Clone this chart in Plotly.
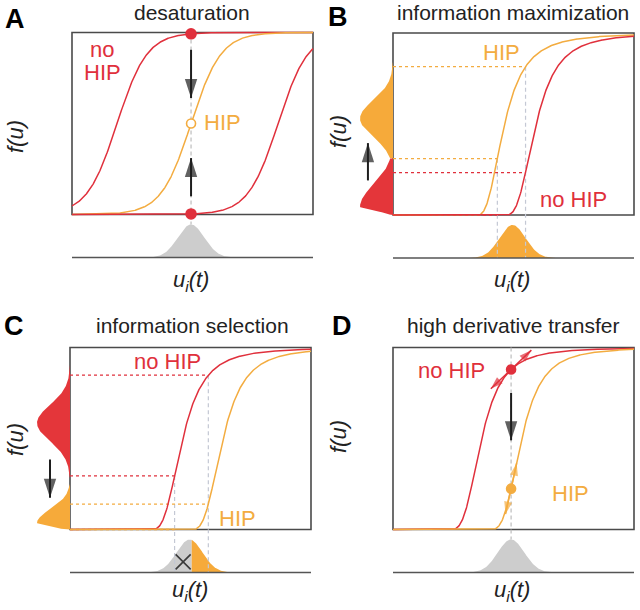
import numpy as np
import plotly.graph_objects as go

W, H = 640, 610
RED = '#E0303C'
RED_FILL = '#E4363A'
ORANGE = '#F3AC40'
ORANGE_FILL = '#F6AA3A'
GRAY_FILL = '#CDCDCD'
BOX = '#4A4A4A'
ARROW = '#1E1E1E'
VDASH = '#C4C8D4'
FONT = 'Liberation Sans, Arial, sans-serif'

# ---------------- data (box units: x 0..1 across the box, y 0..1 up the box) -------------
# Panel A: logistic transfer functions (midpoint, scale)
A_centers = [0.187, 0.494, 0.855]
A_scales = [0.062, 0.062, 0.062]
A_kinds = ['nohip', 'hip', 'nohip']
A_input = [0.494, 0.055]          # input distribution: mean, sd

# Hill-type transfer functions: onset, half-saturation distance, exponent
B_hip = [0.350, 0.113, 2.6]
B_nohip = [0.467, 0.127, 2.8]
B_input = [0.496, 0.054]
B_samples = [0.433, 0.550]
# output distributions: mode, sd above, sd below, low end, high end
B_out_hip = [0.53, 0.10, 0.10, 0.31, 0.84]
B_out_nohip = [0.045, 0.12, 0.02, 0.0, 0.31]

C_nohip = [0.338, 0.130, 2.88]
C_hip = [0.505, 0.130, 2.88]
C_input = [0.496, 0.054]
C_samples = [0.434, 0.574]
C_out_nohip = [0.585, 0.10, 0.10, 0.285, 0.905]
C_out_hip = [0.036, 0.075, 0.02, 0.0, 0.25]

D_nohip = [0.238, 0.130, 3.0]
D_hip = [0.404, 0.130, 3.0]
D_input = [0.490, 0.055]

titles = ['desaturation', 'information maximization', 'information selection', 'high derivative transfer']
letters = ['A', 'B', 'C', 'D']

# ---------------- layout geometry (pixels) ----------------
BOX_W, BOX_H = 241.0, 182.0
BASE = -43.0 / BOX_H         # baseline of input distribution
GAUSS_H = 33.0 / BOX_H
DIST_W = 33.0 / BOX_W
panels = [
    dict(box=(72, 32.5), dom=(0, 320, 0, 305)),
    dict(box=(393, 33), dom=(320, 640, 0, 305)),
    dict(box=(70, 347.5), dom=(0, 320, 305, 610)),
    dict(box=(393, 347.5), dom=(320, 640, 305, 610)),
]

fig = go.Figure()
uu = np.linspace(0, 1, 500)


def logistic(u, c, s):
    return 1.0 / (1.0 + np.exp(-(np.asarray(u) - c) / s))


def hill(u, p):
    u0, k, n = p
    x = np.clip(np.asarray(u, dtype=float) - u0, 0, None)
    r = (x / k) ** n
    return r / (1 + r)


def hill_deriv(u, p):
    u0, k, n = p
    x = max(u - u0, 1e-9)
    r = (x / k) ** n
    return n * r / (x * (1 + r) ** 2)


def ids(i):
    return ('x', 'y') if i == 1 else (f'x{i}', f'y{i}')


def setup(i, p):
    bl, bt = p['box']
    xl, xr, yt, yb = p['dom']
    bb = bt + BOX_H
    key = '' if i == 1 else str(i)
    fig.update_layout(**{
        f'xaxis{key}': dict(domain=[xl / W, xr / W], range=[(xl - bl) / BOX_W, (xr - bl) / BOX_W],
                            visible=False, anchor=f'y{key}', fixedrange=True),
        f'yaxis{key}': dict(domain=[1 - yb / H, 1 - yt / H], range=[(bb - yb) / BOX_H, (bb - yt) / BOX_H],
                            visible=False, anchor=f'x{key}', fixedrange=True),
    })
    xa, ya = ids(i)
    fig.add_shape(type='rect', xref=xa, yref=ya, x0=0, x1=1, y0=0, y1=1,
                  line=dict(color=BOX, width=1.6), layer='below')
    fig.add_shape(type='line', xref=xa, yref=ya, x0=0, x1=1, y0=BASE, y1=BASE,
                  line=dict(color='#555555', width=1.6))


def line(i, x, y, color, width=1.5, dash=None):
    xa, ya = ids(i)
    fig.add_trace(go.Scatter(x=list(x), y=list(y), mode='lines', xaxis=xa, yaxis=ya,
                             line=dict(color=color, width=width, dash=dash),
                             hoverinfo='skip', showlegend=False))


def poly(i, x, y, color):
    xa, ya = ids(i)
    fig.add_trace(go.Scatter(x=list(x), y=list(y), mode='lines', fill='toself', fillcolor=color,
                             line=dict(width=0, color=color), xaxis=xa, yaxis=ya,
                             hoverinfo='skip', showlegend=False))


def dot(i, x, y, color, size=10, fill=None):
    xa, ya = ids(i)
    fig.add_trace(go.Scatter(x=[x], y=[y], mode='markers', xaxis=xa, yaxis=ya,
                             marker=dict(size=size, color=fill or color, line=dict(color=color, width=1.6)),
                             hoverinfo='skip', showlegend=False))


def gauss(i, inp, color, lo=None, hi=None):
    m, sd = inp
    a = m - 3.3 * sd if lo is None else lo
    b = m + 3.3 * sd if hi is None else hi
    x = np.linspace(a, b, 120)
    y = BASE + GAUSS_H * np.exp(-0.5 * ((x - m) / sd) ** 2)
    poly(i, [a] + list(x) + [b], [BASE] + list(y) + [BASE], color)


def side(i, prm, color):
    mode, su, sd, lo, hi = prm
    y = np.linspace(lo, hi, 200)
    w = np.where(y >= mode, np.exp(-0.5 * ((y - mode) / su) ** 2), np.exp(-0.5 * ((y - mode) / sd) ** 2))
    poly(i, [0] + list(-DIST_W * w) + [0], [lo] + list(y) + [hi], color)


def arrow(i, x0, y0, x1, y1, color=ARROW, width=2.0, size=20):
    xa, ya = ids(i)
    fig.add_trace(go.Scatter(x=[x0, x1], y=[y0, y1], mode='lines', xaxis=xa, yaxis=ya,
                             line=dict(color=color, width=width),
                             hoverinfo='skip', showlegend=False))
    fig.add_trace(go.Scatter(x=[x0, x1], y=[y0, y1], mode='markers', xaxis=xa, yaxis=ya,
                             marker=dict(symbol='arrow', size=[0, size], angleref='previous',
                                         color=color, line=dict(width=0, color=color)),
                             hoverinfo='skip', showlegend=False))


def vdash(i, x, y0, y1, color=VDASH):
    line(i, [x, x], [y0, y1], color, width=1.2, dash='4px,3px')


def hdash(i, x1, y, color):
    line(i, [0, x1], [y, y], color, width=1.3, dash='3px,3px')


for i, p in enumerate(panels, start=1):
    setup(i, p)

# ---------------- Panel A ----------------
mA = A_input[0]
gauss(1, A_input, GRAY_FILL)
vdash(1, mA, 1, BASE + GAUSS_H, color='#BDBDBD')
for c, s, k in zip(A_centers, A_scales, A_kinds):
    line(1, uu, logistic(uu, c, s), RED if k == 'nohip' else ORANGE, width=1.5)
arrow(1, mA, 0.905, mA, 0.64)
arrow(1, mA, 0.10, mA, 0.31)
dot(1, mA, float(logistic(mA, A_centers[0], A_scales[0])), RED, size=10)
dot(1, mA, float(logistic(mA, A_centers[2], A_scales[2])), RED, size=10)
dot(1, mA, float(logistic(mA, A_centers[1], A_scales[1])), ORANGE, size=9, fill='white')

# ---------------- Panel B ----------------
gauss(2, B_input, ORANGE_FILL)
for s in B_samples:
    vdash(2, s, float(hill(s, B_hip)), BASE)
for s in B_samples:
    hdash(2, s, float(hill(s, B_hip)), ORANGE)
    hdash(2, s, float(hill(s, B_nohip)), RED)
side(2, B_out_hip, ORANGE_FILL)
side(2, B_out_nohip, RED_FILL)
line(2, uu, hill(uu, B_hip), ORANGE)
line(2, uu, hill(uu, B_nohip), RED)
arrow(2, -0.104, 0.19, -0.104, 0.395)

# ---------------- Panel C ----------------
gauss(3, C_input, GRAY_FILL, hi=C_hip[0])
gauss(3, C_input, ORANGE_FILL, lo=C_hip[0])
for s in C_samples:
    vdash(3, s, float(hill(s, C_nohip)), BASE)
for s in C_samples:
    hdash(3, s, float(hill(s, C_nohip)), RED)
    hdash(3, s, float(hill(s, C_hip)), ORANGE)
side(3, C_out_nohip, RED_FILL)
side(3, C_out_hip, ORANGE_FILL)
line(3, uu, hill(uu, C_nohip), RED)
line(3, uu, hill(uu, C_hip), ORANGE)
arrow(3, -0.083, 0.385, -0.083, 0.175)
fig.add_trace(go.Scatter(x=[(C_samples[0] + C_hip[0]) / 2], y=[BASE + 0.32 * GAUSS_H], mode='markers',
                         xaxis='x3', yaxis='y3', hoverinfo='skip', showlegend=False,
                         marker=dict(symbol='x-thin', size=15, line=dict(color='#3A3A3A', width=1.6))))

# ---------------- Panel D ----------------
mD = D_input[0]
gauss(4, D_input, GRAY_FILL)
vdash(4, mD, 1, BASE + GAUSS_H, color='#BDBDBD')
line(4, uu, hill(uu, D_nohip), RED)
line(4, uu, hill(uu, D_hip), ORANGE)
arrow(4, mD, 0.75, mD, 0.49)
for prm, col, L in [(D_nohip, RED, 28.0), (D_hip, ORANGE, 26.0)]:
    y0 = float(hill(mD, prm))
    slope = hill_deriv(mD, prm) * BOX_H / BOX_W
    nrm = np.hypot(1.0, slope)
    du, dy = L / nrm / BOX_W, L * slope / nrm / BOX_H
    arrow(4, mD, y0, mD + du, y0 + dy, color=col, width=1.5, size=13)
    arrow(4, mD, y0, mD - du, y0 - dy, color=col, width=1.5, size=13)
    dot(4, mD, y0, col, size=9)


# ---------------- text ----------------
def ptext(xp, yp, text, color='#222222', size=22, angle=0, style='normal'):
    fig.add_annotation(x=xp / W, y=1 - yp / H, xref='paper', yref='paper', text=text,
                       showarrow=False, xanchor='center', yanchor='middle', textangle=angle,
                       font=dict(family=FONT, size=size, color=color, style=style))


title_pos = [(192, 13), (513, 13), (192, 325), (513, 325)]
letter_pos = [(15, 19), (338, 17), (14, 326), (342, 326)]
fu_pos = [(15, 137), (339, 132), (15, 440), (338, 437)]
ui_pos = [(191, 281), (512, 281), (190, 591), (512, 591)]
for t, pos in zip(titles, title_pos):
    ptext(*pos, t, size=21)
for t, pos in zip(letters, letter_pos):
    ptext(*pos, f'<b>{t}</b>', color='#000000', size=27)
for pos in fu_pos:
    ptext(*pos, 'f(u)', size=22, angle=-90, style='italic')
for pos in ui_pos:
    ptext(*pos, 'u<sub>i</sub>(t)', size=22, style='italic')

labels = [
    ('no', 102, 50, RED), ('HIP', 102, 73, RED), ('HIP', 222, 123, ORANGE),
    ('HIP', 501, 52, ORANGE), ('no HIP', 573, 200, RED),
    ('no HIP', 167, 362, RED), ('HIP', 237, 518, ORANGE),
    ('no HIP', 451, 370, RED), ('HIP', 570, 493, ORANGE),
]
for t, xp, yp, c in labels:
    ptext(xp, yp, t, color=c, size=22)

fig.update_layout(width=W, height=H, margin=dict(l=0, r=0, t=0, b=0),
                  paper_bgcolor='white', plot_bgcolor='white', showlegend=False)
fig.write_html('out.html', post_script="document.body.style.margin='0px';",
               config={'displayModeBar': False, 'staticPlot': True})
